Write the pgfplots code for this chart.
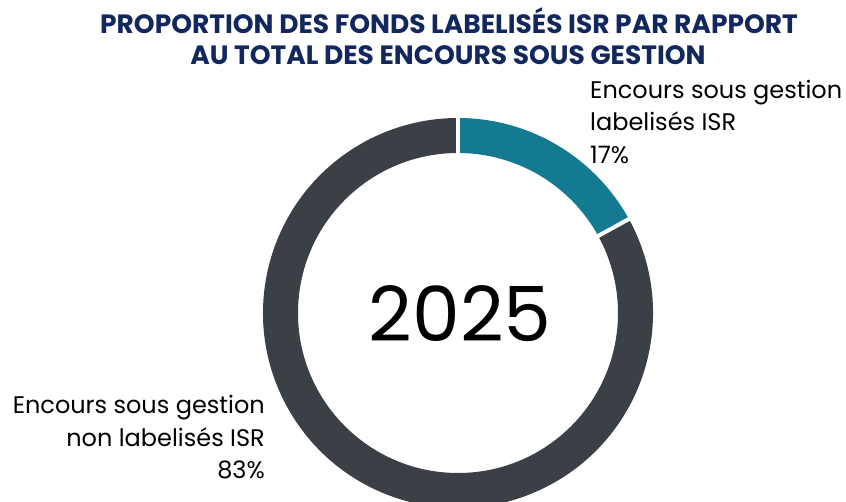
\documentclass[border=0pt]{standalone}
\usepackage{pgfplots}
\pgfplotsset{compat=1.18}
\usepackage{fontspec}
\setmainfont{Poppins}
\definecolor{titleblue}{HTML}{12275E}
\definecolor{isrteal}{HTML}{147A91}
\definecolor{restgray}{HTML}{3B3F46}

% share of labelled funds (%), the rest is non labelled
\def\shareISR{17}
\def\shareRest{83}

\begin{document}
\begin{tikzpicture}
\begin{axis}[
  x=1pt, y=1pt,
  xmin=0, xmax=846, ymin=0, ymax=502,
  hide axis, disabledatascaling,
  clip=true,
]
\coordinate (ll) at (axis cs:0,0);
\coordinate (ur) at (axis cs:846,502);
% donut: centre (458,189), outer radius 195, inner 160
\pgfmathsetmacro{\aStart}{90}
\pgfmathsetmacro{\aMid}{90-3.6*\shareISR}
\pgfmathsetmacro{\aEnd}{90-3.6*(\shareISR+\shareRest)}
\fill[isrteal] (axis cs:{458+195*cos(\aStart)},{189+195*sin(\aStart)})
  arc[start angle=\aStart, end angle=\aMid, radius=195pt]
  -- (axis cs:{458+160*cos(\aMid)},{189+160*sin(\aMid)})
  arc[start angle=\aMid, end angle=\aStart, radius=160pt] -- cycle;
\fill[restgray] (axis cs:{458+195*cos(\aMid)},{189+195*sin(\aMid)})
  arc[start angle=\aMid, end angle=\aEnd, radius=195pt]
  -- (axis cs:{458+160*cos(\aEnd)},{189+160*sin(\aEnd)})
  arc[start angle=\aEnd, end angle=\aMid, radius=160pt] -- cycle;
\draw[white, line width=4pt]
  (axis cs:{458+150*cos(\aStart)},{189+150*sin(\aStart)})
  -- (axis cs:{458+205*cos(\aStart)},{189+205*sin(\aStart)});
\draw[white, line width=4pt]
  (axis cs:{458+150*cos(\aMid)},{189+150*sin(\aMid)})
  -- (axis cs:{458+205*cos(\aMid)},{189+205*sin(\aMid)});

% centre year
\node[font=\fontsize{76}{76}\selectfont, text=black, anchor=base]
  at (axis cs:460,160) {2025};

% title
\node[font=\fontsize{26.5}{27}\selectfont\bfseries, text=titleblue, anchor=base]
  at (axis cs:449,468) {PROPORTION DES FONDS LABELISÉS ISR PAR RAPPORT};
\node[font=\fontsize{26.5}{27}\selectfont\bfseries, text=titleblue, anchor=base]
  at (axis cs:448,437) {AU TOTAL DES ENCOURS SOUS GESTION};

% label labelled
\node[font=\fontsize{24}{24}\selectfont, text=black, anchor=base west, inner sep=0pt]
  at (axis cs:590,403) {Encours sous gestion};
\node[font=\fontsize{24}{24}\selectfont, text=black, anchor=base west, inner sep=0pt]
  at (axis cs:590,371) {labelisés ISR};
\node[font=\fontsize{24}{24}\selectfont, text=black, anchor=base west, inner sep=0pt]
  at (axis cs:590,338) {\shareISR\%};

% label non labelled
\node[font=\fontsize{24}{24}\selectfont, text=black, anchor=base east, inner sep=0pt]
  at (axis cs:265,88) {Encours sous gestion};
\node[font=\fontsize{24}{24}\selectfont, text=black, anchor=base east, inner sep=0pt]
  at (axis cs:265,55) {non labelisés ISR};
\node[font=\fontsize{24}{24}\selectfont, text=black, anchor=base east, inner sep=0pt]
  at (axis cs:265,23) {\shareRest\%};
\end{axis}
\pgfresetboundingbox
\useasboundingbox (ll) rectangle (ur);
\end{tikzpicture}
\end{document}
